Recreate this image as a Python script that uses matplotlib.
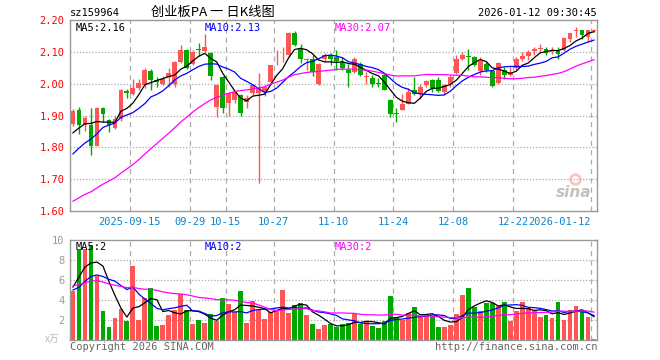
import numpy as np
import matplotlib
matplotlib.use("Agg")
import matplotlib.pyplot as plt

plt.rcParams['font.family'] = ['DejaVu Sans Mono', 'Noto Sans CJK SC']

# daily K line, 88 trading days 2025-09-01 .. 2026-01-12
opens = [1.874, 1.916, 1.870, 1.870, 1.805, 1.922, 1.885, 1.862, 1.888, 1.977,
         1.967, 1.987, 1.995, 2.040, 2.013, 2.000, 2.020, 2.000, 2.067, 2.105,
         2.061, 2.109, 2.103, 2.095, 1.928, 2.020, 1.938, 1.948, 1.964, 1.943,
         1.970, 1.970, 1.975, 2.006, 2.098, 2.098, 2.090, 2.158, 2.110, 2.075,
         2.079, 1.998, 2.078, 2.090, 2.085, 2.069, 2.042, 2.037, 2.063, 2.020,
         2.019, 2.000, 2.027, 1.950, 1.907, 1.918, 1.937, 1.979, 1.969, 1.995,
         2.011, 2.013, 1.974, 2.000, 2.032, 2.079, 2.087, 2.084, 2.040, 2.061,
         2.040, 2.003, 2.042, 2.027, 2.048, 2.076, 2.086, 2.103, 2.109, 2.110,
         2.100, 2.105, 2.105, 2.139, 2.166, 2.168, 2.147, 2.166]
highs = [1.920, 1.928, 1.900, 1.925, 1.927, 1.926, 1.890, 1.900, 1.982, 1.984,
         2.015, 2.015, 2.050, 2.046, 2.020, 2.025, 2.050, 2.070, 2.120, 2.110,
         2.105, 2.127, 2.156, 2.100, 2.000, 2.025, 1.975, 1.980, 1.967, 1.965,
         2.000, 2.032, 1.995, 2.060, 2.107, 2.115, 2.163, 2.166, 2.126, 2.080,
         2.090, 2.065, 2.095, 2.097, 2.107, 2.084, 2.063, 2.084, 2.069, 2.037,
         2.027, 2.019, 2.032, 1.953, 1.922, 1.969, 1.985, 2.021, 2.000, 2.012,
         2.016, 2.021, 2.000, 2.027, 2.090, 2.100, 2.110, 2.086, 2.085, 2.069,
         2.042, 2.069, 2.053, 2.053, 2.084, 2.100, 2.105, 2.116, 2.126, 2.114,
         2.114, 2.114, 2.147, 2.160, 2.179, 2.168, 2.168, 2.172]
lows = [1.868, 1.842, 1.850, 1.776, 1.803, 1.880, 1.847, 1.857, 1.883, 1.954,
        1.965, 1.980, 1.987, 1.980, 1.990, 1.997, 1.990, 1.990, 2.065, 2.045,
        2.058, 2.088, 2.100, 2.011, 1.896, 1.909, 1.900, 1.940, 1.900, 1.925,
        1.965, 1.687, 1.960, 2.000, 2.058, 2.069, 2.084, 2.118, 2.065, 2.042,
        2.023, 1.995, 2.070, 2.058, 2.042, 2.042, 1.990, 2.032, 2.023, 2.000,
        1.990, 1.990, 1.979, 1.896, 1.880, 1.917, 1.937, 1.964, 1.953, 1.990,
        1.974, 1.974, 1.964, 1.990, 2.030, 2.074, 2.042, 2.055, 2.027, 2.037,
        1.990, 2.000, 2.016, 2.023, 2.042, 2.072, 2.074, 2.090, 2.100, 2.090,
        2.093, 2.079, 2.103, 2.131, 2.147, 2.139, 2.131, 2.163]
closes = [1.914, 1.870, 1.892, 1.805, 1.925, 1.904, 1.870, 1.888, 1.980, 1.970,
          1.987, 2.003, 2.043, 2.013, 2.005, 2.015, 2.035, 2.068, 2.105, 2.050,
          2.100, 2.107, 2.114, 2.025, 1.996, 1.922, 1.970, 1.975, 1.909, 1.954,
          1.996, 1.985, 1.990, 2.058, 2.100, 2.100, 2.158, 2.121, 2.076, 2.078,
          2.037, 2.061, 2.090, 2.076, 2.070, 2.048, 2.032, 2.079, 2.027, 2.022,
          1.998, 1.998, 1.979, 1.906, 1.905, 1.937, 1.974, 1.969, 1.990, 2.009,
          1.985, 1.977, 1.995, 2.021, 2.076, 2.090, 2.085, 2.058, 2.070, 2.044,
          1.992, 2.065, 2.027, 2.034, 2.076, 2.086, 2.100, 2.110, 2.111, 2.097,
          2.107, 2.093, 2.145, 2.158, 2.168, 2.152, 2.168, 2.170]
volumes = [4.9, 9.07, 9.1, 9.5, 6.4, 2.9, 1.33, 2.23, 3.1, 1.9,
           7.43, 2.0, 4.17, 5.17, 1.4, 1.5, 2.5, 3.0, 4.6, 3.0,
           1.6, 2.0, 1.73, 2.6, 1.93, 4.2, 3.6, 2.83, 4.9, 1.73,
           3.93, 3.0, 2.1, 2.83, 2.9, 5.0, 2.73, 3.5, 3.73, 2.5,
           1.6, 1.1, 1.5, 1.57, 1.33, 1.57, 1.73, 2.57, 1.57, 1.9,
           1.4, 1.2, 1.93, 4.4, 2.27, 2.0, 2.67, 3.27, 2.4, 2.4,
           2.4, 1.33, 1.33, 1.5, 2.6, 4.5, 5.17, 3.27, 2.9, 3.73,
           3.73, 3.4, 3.8, 1.93, 2.9, 3.8, 3.23, 2.9, 2.27, 2.5,
           2.2, 3.8, 2.0, 3.0, 3.4, 2.9, 2.27, 0.1]

# the 29 sessions before the window, only used to start the MA lines
prev_closes = [1.55, 1.56, 1.57, 1.56, 1.55, 1.57, 1.58, 1.56, 1.56, 1.58,
               1.53, 1.52, 1.51, 1.52, 1.53, 1.54, 1.55, 1.57, 1.60, 1.62,
               1.69, 1.73, 1.68, 1.76, 1.705, 1.795, 1.825, 1.80, 1.895]
prev_volumes = [4.0, 4.3, 4.4, 5.5, 6.8, 7.2, 6.0, 6.5, 5.9, 6.3,
                5.8, 6.2, 5.1, 4.9, 6.0, 5.5, 5.2, 5.6, 5.4, 5.4,
                6.4, 3.0, 4.8, 4.8, 4.5, 4.07, 4.1, 7.5, 5.93]

date_pos = [10, 20, 26, 34, 44, 54, 64, 74, 87]
date_labels = ['2025-09-15', '09-29', '10-15', '10-27', '11-10',
               '11-24', '12-08', '12-22', '2026-01-12']
price_ticks = [1.60, 1.70, 1.80, 1.90, 2.00, 2.10, 2.20]
vol_ticks = [2, 4, 6, 8, 10]

RED = '#ff5555'
GREEN = '#00a800'
GRID = '#aaaaaa'
MA_COLORS = {5: 'black', 10: '#0000ff', 30: '#ff00ff'}


def moving_avg(prev, vals, n):
    full = np.array(prev + vals)
    out = np.convolve(full, np.ones(n) / n, mode='valid')
    return out[len(out) - len(vals):]


W, H = 660, 360
fig = plt.figure(figsize=(6.6, 3.6), dpi=100)
ax = fig.add_axes([70 / W, 1 - 211 / H, 527 / W, 191 / H])
axv = fig.add_axes([70 / W, 1 - 340 / H, 527 / W, 100 / H])

n = len(closes)
x = np.arange(n) + 0.5
o = np.array(opens); c = np.array(closes)
up = c >= o
cols = [RED if u else GREEN for u in up]

for a in (ax, axv):
    a.set_xlim(0, n)
    for s in a.spines.values():
        s.set_color('#999999')
        s.set_linewidth(1)
    for p in date_pos:
        a.axvline(p, color=GRID, lw=0.9, ls=(0, (4, 3.5)), zorder=0)

# price panel
ax.set_ylim(1.6, 2.2)
for t in price_ticks[1:-1]:
    ax.axhline(t, color=GRID, lw=0.9, ls=(0, (1, 1.5)), zorder=0)
ax.vlines(x, lows, highs, colors=cols, lw=1, zorder=2)
body = np.maximum(np.abs(c - o), 0.003)
ax.bar(x, body, bottom=np.minimum(o, c), width=0.8, color=cols, zorder=3)
for m in (5, 10, 30):
    ax.plot(x, moving_avg(prev_closes, closes, m), color=MA_COLORS[m], lw=0.9, zorder=4)

ax.set_yticks(price_ticks, ['%.2f' % t for t in price_ticks])
ax.tick_params(axis='y', length=0, pad=4, labelsize=7.5, labelcolor='#ff0000')
ax.set_xticks(date_pos, date_labels)
ax.tick_params(axis='x', length=0, pad=4.5, labelsize=7.5, labelcolor='#0a84d0')
ax.get_xticklabels()[-1].set_ha('right')

ax.text(0.01, 0.985, 'MA5:2.16', transform=ax.transAxes, fontsize=7.5, va='top', color='black')
ax.text(0.255, 0.985, 'MA10:2.13', transform=ax.transAxes, fontsize=7.5, va='top', color='#0000ff')
ax.text(0.502, 0.985, 'MA30:2.07', transform=ax.transAxes, fontsize=7.5, va='top', color='#ff00ff')

# sina watermark
ax.text(0.955, 0.055, 'sina', transform=ax.transAxes, fontsize=11, fontweight='bold',
        style='italic', color='#999999', alpha=0.6, ha='center', va='bottom', family='DejaVu Sans')
ax.plot([0.958], [0.17], 'o', transform=ax.transAxes, ms=7, mfc='none', mec='#ff9999', mew=2, alpha=0.6)

# volume panel
axv.set_ylim(0, 10)
for t in vol_ticks[:-1]:
    axv.axhline(t, color=GRID, lw=0.9, ls=(0, (1, 1.5)), zorder=0)
axv.bar(x, volumes, width=0.8, color=cols, zorder=2)
for m in (5, 10, 30):
    axv.plot(x, moving_avg(prev_volumes, volumes, m), color=MA_COLORS[m], lw=0.9, zorder=4)
axv.set_yticks(vol_ticks, [str(t) for t in vol_ticks])
axv.tick_params(axis='y', length=0, pad=4, labelsize=7.5, labelcolor='#999999')
axv.set_xticks([])

axv.text(0.01, 0.98, 'MA5:2', transform=axv.transAxes, fontsize=7.5, va='top', color='black')
axv.text(0.255, 0.98, 'MA10:2', transform=axv.transAxes, fontsize=7.5, va='top', color='#0000ff')
axv.text(0.502, 0.98, 'MA30:2', transform=axv.transAxes, fontsize=7.5, va='top', color='#ff00ff')

# header / footer
fig.text(70 / W, 1 - 13 / H, 'sz159964', fontsize=7.5, va='center', color='black')
fig.text(213 / W, 1 - 12 / H, '创业板PA 一 日K线图', fontsize=9.5, va='center', ha='center',
         color='black', family=['Noto Sans CJK SC', 'DejaVu Sans'])
fig.text(597 / W, 1 - 13 / H, '2026-01-12 09:30:45', fontsize=7.5, va='center', ha='right', color='black')
fig.text(52 / W, 1 - 339 / H, 'x万', fontsize=7, va='center', ha='center', color='#bbbbbb',
         family=['Noto Sans CJK SC', 'DejaVu Sans'])
fig.text(70 / W, 1 - 347 / H, 'Copyright 2026 SINA.COM', fontsize=7.5, va='center', color='#666666')
fig.text(597 / W, 1 - 347 / H, 'http://finance.sina.com.cn', fontsize=7.5, va='center', ha='right', color='#666666')

fig.savefig('out.png', dpi=100)
